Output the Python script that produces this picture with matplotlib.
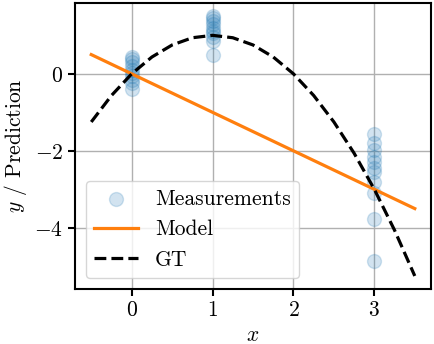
import matplotlib
matplotlib.use("Agg")
import matplotlib.pyplot as plt
import numpy as np

plt.rcParams.update({
    "font.family": "serif",
    "font.serif": ["cmr10"],
    "mathtext.fontset": "cm",
    "axes.formatter.use_mathtext": True,
    "font.size": 15.5,
    "axes.unicode_minus": True,
})

meas_x0 = [0.45, 0.38, 0.3, 0.2, 0.1, 0.02, -0.05, -0.15, -0.25, -0.4]
meas_x1 = [1.5, 1.45, 1.38, 1.3, 1.2, 1.12, 1.05, 0.95, 0.85, 0.5]
meas_x3 = [-1.55, -1.8, -1.98, -2.16, -2.3, -2.45, -2.55, -2.8, -3.1, -3.78, -4.85]
meas_x = [0] * len(meas_x0) + [1] * len(meas_x1) + [3] * len(meas_x3)
meas_y = meas_x0 + meas_x1 + meas_x3

model_x = [-0.5, 3.5]
model_y = [0.5, -3.5]

gt_x = [-0.5, -0.25, 0.0, 0.25, 0.5, 0.75, 1.0, 1.25, 1.5, 1.75, 2.0,
        2.25, 2.5, 2.75, 3.0, 3.25, 3.5]
gt_y = [-1.25, -0.5625, 0.0, 0.4375, 0.75, 0.9375, 1.0, 0.9375, 0.75,
        0.4375, 0.0, -0.5625, -1.25, -2.0625, -3.0, -4.0625, -5.25]

fig = plt.figure(figsize=(4.34, 3.44), dpi=100)
ax = fig.add_axes([0.173, 0.160, 0.820, 0.831])

ax.scatter(meas_x, meas_y, s=100, color="#1f77b4", alpha=0.2, label="Measurements", zorder=3)
ax.plot(model_x, model_y, color="#ff7f0e", lw=2.3, label="Model", zorder=3)
ax.plot(gt_x, gt_y, color="black", lw=2.3, ls="--", label="GT", zorder=3)

ax.set_xticks([0, 1, 2, 3])
ax.set_yticks([0, -2, -4])
ax.grid(True, color="#b0b0b0", lw=1)
ax.set_axisbelow(True)
for s in ax.spines.values():
    s.set_linewidth(1.5)
ax.tick_params(width=1.5, length=5)
ax.set_xlabel("$x$")
ax.set_ylabel("$y$ / Prediction")
ax.legend(loc="lower left", borderaxespad=0.5)

fig.savefig("out.png", dpi=100)
